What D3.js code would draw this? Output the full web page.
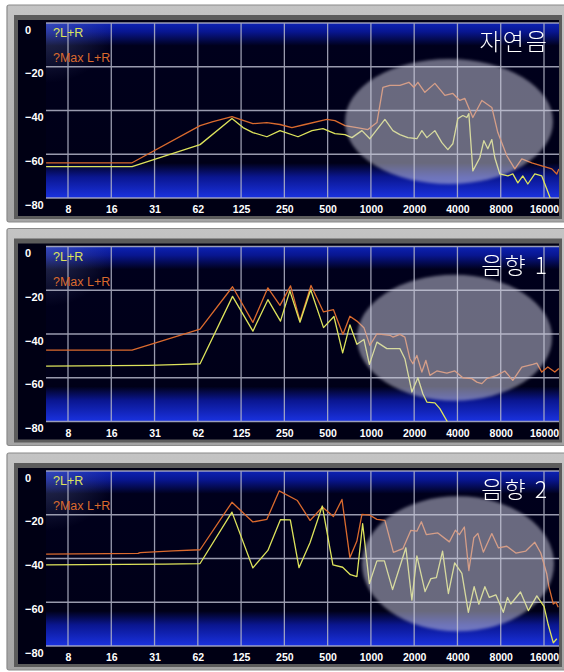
<!DOCTYPE html>
<html><head><meta charset="utf-8">
<script src="https://cdn.jsdelivr.net/npm/d3@7"></script>
<style>body{margin:0;background:#fff;} svg{display:block;}</style>
</head><body>
<svg id="c" width="564" height="672"></svg>
<script>
// ---------- data ----------
const panelTitles = ["자연음", "음향 1", "음향 2"];
const legendLabels = ["?L+R", "?Max L+R"];
const yTicks = [0, -20, -40, -60, -80];
const xTicks = [7.8125, 15.625, 31.25, 62.5, 125, 250, 500, 1000, 2000, 4000, 8000, 16000];
const xTickLabels = ["8", "16", "31", "62", "125", "250", "500", "1000", "2000", "4000", "8000", "16000"];

// [frequency Hz, level dB]
const naturalMax = [[5.5,-63.9],[21.8,-63.9],[64.8,-46.9],[79.7,-45.1],[108,-42.8],[123,-44.1],[151,-46.0],[189,-45.5],[233,-46.4],[282,-47.8],[348,-46.4],[494,-44.1],[562,-44.6],[660,-46.9],[799,-47.8],[953,-48.7],[1101,-45.5],[1212,-29.4],[1356,-28.5],[1591,-28.5],[1838,-27.1],[1990,-29.4],[2122,-27.1],[2373,-31.7],[2786,-27.6],[3270,-33.1],[3716,-32.2],[4156,-35.4],[4503,-34.5],[5118,-43.2],[5912,-35.4],[6937,-38.6],[7636,-50.1],[8820,-60.7],[10030,-66.7],[11210,-62.1],[13160,-63.9],[15440,-65.3],[18130,-66.7],[19640,-69.0],[20280,-66.7]];
const naturalLR = [[5.5,-65.7],[21.8,-65.7],[64.8,-55.6],[108,-43.7],[129,-47.8],[151,-50.1],[189,-52.0],[233,-49.2],[311,-52.0],[389,-49.2],[464,-48.3],[562,-50.6],[660,-51.0],[738,-52.4],[866,-49.2],[984,-52.9],[1251,-44.1],[1422,-49.2],[1591,-51.0],[1808,-52.4],[2088,-52.9],[2262,-49.2],[2450,-52.4],[2786,-49.2],[3117,-54.7],[3430,-57.9],[3716,-55.2],[4025,-43.7],[4361,-42.3],[4649,-43.2],[4800,-41.4],[5118,-67.6],[5724,-61.6],[6105,-53.8],[6508,-57.5],[6937,-53.3],[7278,-61.6],[7885,-69.0],[8963,-69.9],[9710,-69.0],[10520,-73.1],[11390,-69.9],[12350,-73.6],[13810,-69.0],[15440,-69.9],[16730,-75.9],[18130,-82]];
const sound1Max = [[5.5,-47.4],[21.8,-47.4],[64.8,-37.8],[109,-18.4],[151,-34.7],[192,-18.9],[233,-26.9],[276,-18.0],[321,-34.0],[383,-17.8],[468,-29.9],[549,-28.9],[639,-40.2],[714,-31.9],[799,-34.1],[894,-37.1],[984,-45.2],[1101,-39.9],[1356,-40.6],[1422,-41.4],[1591,-40.2],[1723,-41.4],[1867,-51.3],[1959,-53.6],[2088,-49.8],[2262,-57.4],[2411,-52.1],[2572,-58.9],[2876,-56.9],[3375,-57.9],[3837,-56.9],[4361,-60.0],[5040,-60.4],[5458,-62.0],[5912,-62.7],[6404,-60.4],[7516,-58.9],[8543,-56.9],[9710,-61.2],[11210,-55.1],[13370,-53.9],[14260,-53.3],[15440,-57.4],[17010,-55.1],[19020,-57.4],[20280,-55.8]];
const sound1LR = [[5.5,-54.7],[28.2,-54.3],[49.3,-53.9],[64.8,-53.6],[109,-22.8],[151,-38.7],[192,-24.3],[235,-34.1],[273,-20.3],[321,-34.6],[381,-19.8],[468,-37.1],[553,-32.0],[636,-48.6],[714,-35.8],[799,-44.7],[894,-42.5],[976,-53.9],[1101,-43.7],[1292,-46.7],[1591,-46.7],[1723,-51.3],[1928,-66.5],[2122,-60.0],[2299,-67.3],[2450,-71.1],[2786,-71.5],[3018,-74.1],[3430,-80.5]];
const sound2Max = [[5.5,-38.0],[24.0,-37.7],[24.8,-37.3],[42.0,-36.5],[64.8,-36.0],[108,-14.3],[151,-23.3],[189,-22.1],[230,-9.1],[308,-13.5],[377,-22.6],[460,-16.5],[549,-20.8],[629,-13.0],[714,-39.6],[799,-32.0],[866,-19.8],[984,-20.2],[1101,-22.1],[1251,-22.6],[1434,-37.2],[1669,-35.5],[1897,-27.1],[2088,-27.5],[2244,-23.2],[2432,-29.1],[2922,-28.3],[3513,-32.4],[3869,-27.1],[4124,-29.1],[4467,-25.6],[4800,-45.5],[5201,-30.5],[5545,-28.5],[6054,-37.1],[6937,-28.6],[7700,-35.1],[8820,-34.4],[10190,-37.5],[11960,-36.6],[13810,-32.6],[15200,-37.5],[16730,-47.1],[17280,-52.6],[18570,-60.8],[19390,-60.0],[20110,-62.3]];
const sound2LR = [[5.5,-42.9],[37.0,-42.6],[64.8,-42.3],[108,-18.8],[151,-44.3],[192,-36.3],[235,-22.2],[275,-22.3],[316,-44.2],[377,-32.8],[459,-16.0],[544,-42.9],[636,-44.0],[720,-47.4],[799,-48.3],[876,-24.1],[976,-51.5],[1101,-41.1],[1241,-41.1],[1415,-54.2],[1751,-35.1],[1928,-59.0],[2088,-38.8],[2381,-55.1],[2613,-49.2],[2854,-48.7],[3151,-36.6],[3458,-56.0],[3826,-42.0],[4293,-46.8],[4764,-64.6],[5227,-52.9],[5636,-60.9],[6204,-52.9],[6665,-57.8],[7400,-56.6],[8340,-64.6],[8920,-57.8],[9400,-60.8],[10980,-55.3],[12450,-63.8],[14260,-57.1],[16030,-62.0],[17130,-70.3],[18570,-78.6],[19640,-76.7]];

const panelSeries = [[naturalLR, naturalMax], [sound1LR, sound1Max], [sound2LR, sound2Max]];

// ---------- layout ----------
const W = 564;
const panelY = [0, 223.5, 448];
const plotL = 46, plotR = 559, plotT = 23, plotH = 175;
const ellipses = [{cx:449, cy:121.5, rx:104, ry:62.5}, {cx:454.5, cy:114.2, rx:97.5, ry:63}, {cx:458, cy:115.8, rx:96, ry:67.5}];
const lineColors = ["#dde35c", "#da6a2e"];

const svg = d3.select("#c");
const defs = svg.append("defs");
const g1 = defs.append("linearGradient").attr("id","plotGrad").attr("x1",0).attr("y1",0).attr("x2",0).attr("y2",1);
[[0,"#0c22b4"],[0.05,"#081690"],[0.13,"#00001c"],[0.80,"#000018"],[0.88,"#0a1690"],[1,"#1a32e0"]].forEach(s=>g1.append("stop").attr("offset",s[0]).attr("stop-color",s[1]));
const g2 = defs.append("radialGradient").attr("id","legGrad").attr("cx",0).attr("cy",0).attr("r",1);
g2.append("stop").attr("offset",0).attr("stop-color","#8090d0").attr("stop-opacity",0.35);
g2.append("stop").attr("offset",1).attr("stop-color","#8090d0").attr("stop-opacity",0);
const frameGrad = defs.append("linearGradient").attr("id","frameGrad").attr("x1",0).attr("y1",0).attr("x2",0).attr("y2",1);
frameGrad.append("stop").attr("offset",0).attr("stop-color","#c4c4c4");
frameGrad.append("stop").attr("offset",1).attr("stop-color","#a4a4a4");
const blur = defs.append("filter").attr("id","soft").attr("x","-10%").attr("y","-10%").attr("width","120%").attr("height","120%");
blur.append("feGaussianBlur").attr("stdDeviation",1.6);
const tblur = defs.append("filter").attr("id","tsoft");
tblur.append("feGaussianBlur").attr("stdDeviation",0.3);
defs.append("clipPath").attr("id","plotClip").append("rect")
  .attr("x",plotL).attr("y",plotT).attr("width",plotR-plotL).attr("height",plotH);

const x = d3.scaleLog().base(2).domain([7.8125, 16000]).range([68, 544]);
const y = d3.scaleLinear().domain([-80, 0]).range([plotT + plotH, plotT]);
const line = d3.line().x(d => x(d[0])).y(d => y(d[1]));

panelSeries.forEach((series, i) => {
  const g = svg.append("g").attr("transform", `translate(0,${panelY[i]})`);
  // frame
  g.append("rect").attr("x",7).attr("y",5).attr("width",W-7+2).attr("height",217)
    .attr("fill","url(#frameGrad)").attr("stroke","#8a8a8a").attr("stroke-width",1.2).attr("rx",2);
  g.append("rect").attr("x",14).attr("y",15).attr("width",548).attr("height",204)
    .attr("fill","#5c5c5c");
  g.append("rect").attr("x",18).attr("y",20).attr("width",plotR-18).attr("height",196)
    .attr("fill","#000014");
  g.append("rect").attr("x",plotL).attr("y",plotT).attr("width",plotR-plotL).attr("height",plotH)
    .attr("fill","url(#plotGrad)");
  g.append("rect").attr("x",plotL).attr("y",plotT).attr("width",70).attr("height",60)
    .attr("fill","url(#legGrad)");

  // grid
  const grid = g.append("g").attr("stroke","#b4b6c8").attr("stroke-width",1.3).attr("opacity",0.85);
  grid.selectAll(".v").data(xTicks).join("line")
    .attr("x1",d=>x(d)).attr("x2",d=>x(d)).attr("y1",plotT).attr("y2",plotT+plotH);
  grid.selectAll(".h").data(yTicks).join("line")
    .attr("x1",plotL).attr("x2",plotR).attr("y1",d=>y(d)).attr("y2",d=>y(d));

  // axes labels
  const yAxis = d3.axisLeft(y).tickValues(yTicks).tickSize(0).tickFormat(d3.format("d"));
  const ya = g.append("g").attr("transform",`translate(25,0)`).call(yAxis);
  ya.select(".domain").remove();
  ya.selectAll("text").attr("text-anchor","start").attr("x",0).attr("dy",0).attr("y",10)
    .attr("fill","#fff").style("font","bold 11px 'Liberation Sans', Arial, sans-serif");

  const xAxis = d3.axisBottom(x).tickValues(xTicks).tickSize(0).tickFormat((d,j)=>xTickLabels[j]);
  const xa = g.append("g").attr("transform",`translate(0,${plotT+plotH})`).call(xAxis);
  xa.select(".domain").remove();
  xa.selectAll("text").attr("dy",0).attr("y",15)
    .attr("fill","#fff").style("font","bold 10.5px 'Liberation Sans', Arial, sans-serif");

  // lines
  const lg = g.append("g").attr("clip-path","url(#plotClip)");
  [1,0].forEach(k => {
    lg.append("path").datum(series[k]).attr("d",line).attr("fill","none")
      .attr("stroke",lineColors[k]).attr("stroke-width",1.3).attr("stroke-linejoin","round");
  });

  // legend
  legendLabels.forEach((t,k) => {
    g.append("text").attr("x",53).attr("y",37 + k*25).text(t)
      .attr("fill",lineColors[k]).style("font","12.5px 'Liberation Sans', Arial, sans-serif");
  });

  // highlight ellipse
  const e = ellipses[i];
  g.append("ellipse").attr("cx",e.cx).attr("cy",e.cy).attr("rx",e.rx).attr("ry",e.ry)
    .attr("fill","#d2d2e2").attr("opacity",0.5).attr("filter","url(#soft)");

  // title
  g.append("text").attr("x",549).attr("y",50).attr("text-anchor","end").text(panelTitles[i])
    .attr("fill","#fff").attr("letter-spacing",2).attr("filter","url(#tsoft)")
    .style("font","300 23px 'Noto Sans CJK KR', sans-serif");
});
</script>
</body></html>
